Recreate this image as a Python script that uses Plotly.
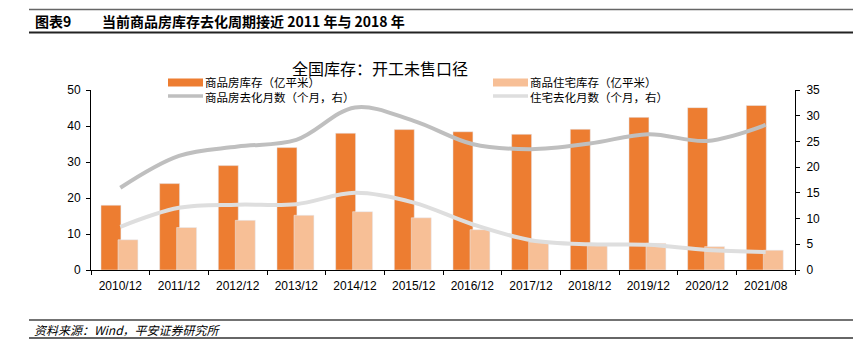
import plotly.graph_objects as go

categories = ["2010/12", "2011/12", "2012/12", "2013/12", "2014/12", "2015/12",
              "2016/12", "2017/12", "2018/12", "2019/12", "2020/12", "2021/08"]
commercial_stock = [18.0, 24.0, 29.0, 34.0, 38.0, 39.0, 38.4, 37.7, 39.1, 42.4, 45.1, 45.7]
residential_stock = [8.4, 11.8, 13.8, 15.2, 16.2, 14.5, 11.2, 7.8, 7.3, 7.4, 6.5, 5.5]
commercial_months = [16.0, 22.2, 24.0, 25.3, 31.6, 29.0, 24.5, 23.5, 24.6, 26.4, 25.1, 28.2]
residential_months = [8.4, 12.1, 12.7, 12.8, 15.0, 13.1, 8.9, 5.8, 5.0, 4.9, 3.9, 3.5]

names = ["商品房库存（亿平米）", "商品住宅库存（亿平米）", "商品房去化月数（个月，右）", "住宅去化月数（个月，右）"]

ORANGE = "#ED7D31"
LIGHT = "#F7BF96"
GRAY = "#BFBFBF"
LGRAY = "#DEDEDE"
FONT = "Liberation Sans, Noto Sans CJK SC, sans-serif"
CJK = "Noto Sans CJK SC, Liberation Sans, sans-serif"

W, H = 853, 354
L, R, T, B = 91, 795, 90, 270


def px(x):
    return (x - L) / (R - L)


def py(y):
    return (B - y) / (B - T)


fig = go.Figure()
fig.add_trace(go.Bar(x=categories, y=commercial_stock, name=names[0], marker_color=ORANGE,
                     width=0.34, offset=-0.33, showlegend=False))
fig.add_trace(go.Bar(x=categories, y=residential_stock, name=names[1], marker_color=LIGHT,
                     width=0.34, offset=-0.04, showlegend=False))
fig.add_trace(go.Scatter(x=categories, y=commercial_months, name=names[2], yaxis="y2", mode="lines",
                         line=dict(color=GRAY, width=4, shape="spline", smoothing=1.0), showlegend=False))
fig.add_trace(go.Scatter(x=categories, y=residential_months, name=names[3], yaxis="y2", mode="lines",
                         line=dict(color=LGRAY, width=4, shape="spline", smoothing=1.0), showlegend=False))

shapes = []
annotations = []

# header rules
shapes.append(dict(type="line", xref="paper", yref="paper", x0=px(29), x1=px(853), y0=py(9.5), y1=py(9.5),
                   line=dict(color="#666666", width=1.3)))
shapes.append(dict(type="line", xref="paper", yref="paper", x0=px(29), x1=px(853), y0=py(32.5), y1=py(32.5),
                   line=dict(color="#222222", width=1.8)))
# footer rules
shapes.append(dict(type="line", xref="paper", yref="paper", x0=px(29), x1=px(853), y0=py(320), y1=py(320),
                   line=dict(color="#444444", width=1.5)))
shapes.append(dict(type="line", xref="paper", yref="paper", x0=px(29), x1=px(853), y0=py(338), y1=py(338),
                   line=dict(color="#333333", width=1.5)))

annotations.append(dict(text="<b>图表9</b>", xref="paper", yref="paper", x=px(33), y=py(21),
                        xanchor="left", yanchor="middle", showarrow=False,
                        font=dict(family=CJK, size=14, color="#000000")))
annotations.append(dict(text="<b>当前商品房库存去化周期接近 2011 年与 2018 年</b>", xref="paper", yref="paper",
                        x=px(100), y=py(21), xanchor="left", yanchor="middle", showarrow=False,
                        font=dict(family=CJK, size=14, color="#000000")))
annotations.append(dict(text="资料来源：Wind，平安证券研究所", xref="paper", yref="paper", x=px(32), y=py(329),
                        xanchor="left", yanchor="middle", showarrow=False,
                        font=dict(family=CJK, size=12, color="#000000", style="italic")))
annotations.append(dict(text="全国库存：开工未售口径", xref="paper", yref="paper", x=px(380), y=py(67.5),
                        xanchor="center", yanchor="middle", showarrow=False,
                        font=dict(family=CJK, size=16, color="#000000")))

# custom legend
legend_items = [
    (names[0], "bar", ORANGE, 168, 204, 82.5),
    (names[2], "line", GRAY, 168, 204, 97),
    (names[1], "bar", LIGHT, 493, 529, 82.5),
    (names[3], "line", LGRAY, 493, 529, 97),
]
for text, kind, color, sx, tx, yy in legend_items:
    if kind == "bar":
        shapes.append(dict(type="rect", xref="paper", yref="paper", x0=px(sx), x1=px(sx + 35),
                           y0=py(yy - 4), y1=py(yy + 4), fillcolor=color, line=dict(width=0)))
    else:
        shapes.append(dict(type="line", xref="paper", yref="paper", x0=px(sx), x1=px(sx + 35),
                           y0=py(yy - 1), y1=py(yy - 1), line=dict(color=color, width=3.5)))
    annotations.append(dict(text=text, xref="paper", yref="paper", x=px(tx), y=py(yy),
                            xanchor="left", yanchor="middle", showarrow=False, borderpad=0,
                            font=dict(family=CJK, size=11.5, color="#000000")))

fig.update_layout(
    width=W, height=H,
    margin=dict(l=L, r=W - R, t=T, b=H - B, pad=0),
    paper_bgcolor="white", plot_bgcolor="white",
    barmode="overlay",
    font=dict(family=FONT, size=12, color="#000000"),
    shapes=shapes, annotations=annotations,
    xaxis=dict(type="category", showline=True, linecolor="#000000", linewidth=1.2,
               ticks="outside", tickson="boundaries", ticklen=4, tickcolor="#000000",
               ticklabelstandoff=4,
               showgrid=False, tickfont=dict(family=FONT, size=12, color="#000000")),
    yaxis=dict(range=[0, 50], dtick=10, showline=True, linecolor="#000000", linewidth=1,
               ticks="outside", ticklen=4, tickcolor="#000000", showgrid=False, zeroline=False,
               ticklabelstandoff=3,
               tickfont=dict(family=FONT, size=12, color="#000000")),
    yaxis2=dict(range=[0, 35], dtick=5, overlaying="y", side="right", showline=True,
                linecolor="#000000", linewidth=1, ticks="outside", ticklen=4, tickcolor="#000000",
                showgrid=False, zeroline=False, ticklabelstandoff=4,
                tickfont=dict(family=FONT, size=12, color="#000000")),
)

fig.write_html("out.html")
